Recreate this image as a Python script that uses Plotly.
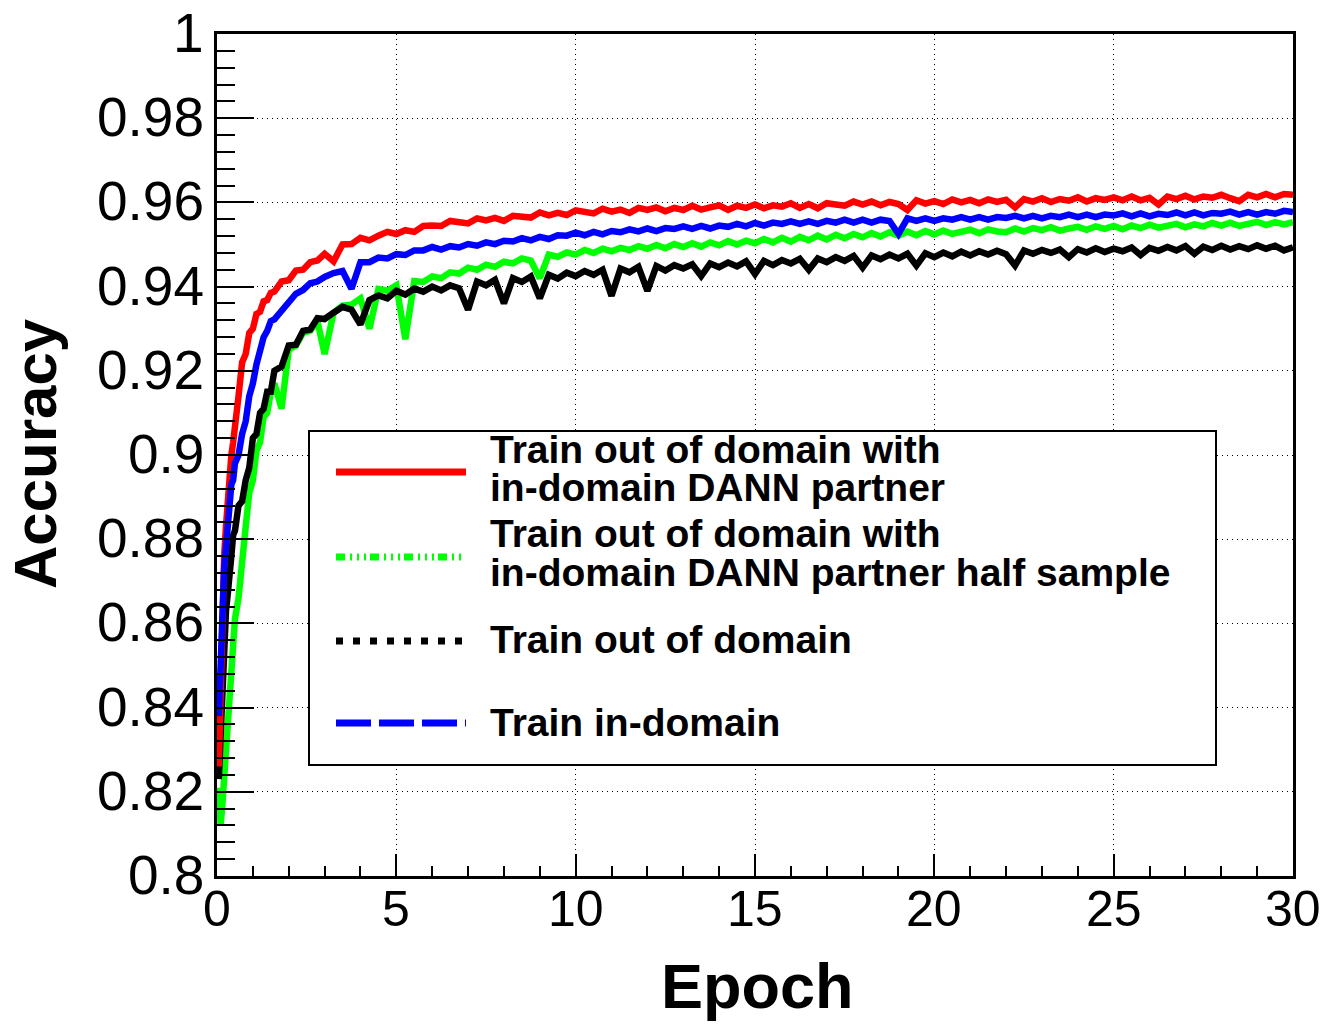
import plotly.graph_objects as go

# ---------------- data ----------------
epoch = [0.05, 0.1, 0.15, 0.2, 0.25, 0.3, 0.35, 0.4, 0.45, 0.5, 0.6, 0.7, 0.8, 0.9, 1.0,
         1.1, 1.2, 1.3, 1.4, 1.5, 1.6, 1.8, 2.0, 2.2, 2.4, 2.6, 2.8, 3.0,
         3.25, 3.5, 3.75, 4.0, 4.25, 4.5, 4.75, 5.0, 5.25, 5.5, 5.75, 6.0,
         6.25, 6.5, 6.75, 7.0, 7.25, 7.5, 7.75, 8.0, 8.25, 8.5, 8.75, 9.0,
         9.25, 9.5, 9.75, 10.0, 10.25, 10.5, 10.75, 11.0, 11.25, 11.5, 11.75, 12.0,
         12.25, 12.5, 12.75, 13.0, 13.25, 13.5, 13.75, 14.0, 14.25, 14.5, 14.75, 15.0,
         15.25, 15.5, 15.75, 16.0, 16.25, 16.5, 16.75, 17.0, 17.25, 17.5, 17.75, 18.0,
         18.25, 18.5, 18.75, 19.0, 19.25, 19.5, 19.75, 20.0, 20.25, 20.5, 20.75, 21.0,
         21.25, 21.5, 21.75, 22.0, 22.25, 22.5, 22.75, 23.0, 23.25, 23.5, 23.75, 24.0,
         24.25, 24.5, 24.75, 25.0, 25.25, 25.5, 25.75, 26.0, 26.25, 26.5, 26.75, 27.0,
         27.25, 27.5, 27.75, 28.0, 28.25, 28.5, 28.75, 29.0, 29.25, 29.5, 29.75, 30.0]

acc_dann = [0.826, 0.846, 0.861, 0.876, 0.883, 0.891, 0.895, 0.900, 0.903, 0.908, 0.914, 0.922, 0.924, 0.929,
            0.930, 0.9335, 0.934, 0.9365, 0.9368, 0.9385, 0.9388, 0.9412, 0.9415, 0.9438, 0.9440, 0.9458, 0.9462, 0.9478,
            0.9460, 0.9500, 0.9501, 0.9516, 0.9510, 0.9521, 0.9530, 0.9525, 0.9534, 0.9530, 0.9544, 0.9545,
            0.9544, 0.9556, 0.9554, 0.9550, 0.9562, 0.9557, 0.9563, 0.9556, 0.9568, 0.9567, 0.9564, 0.9576,
            0.9569, 0.9575, 0.9570, 0.9581, 0.9577, 0.9574, 0.9585, 0.9578, 0.9583, 0.9575, 0.9587, 0.9582,
            0.9588, 0.9579, 0.9587, 0.9582, 0.9592, 0.9583, 0.9588, 0.9593, 0.9582, 0.9592, 0.9587, 0.9595,
            0.9586, 0.9593, 0.9590, 0.9598, 0.9587, 0.9596, 0.9586, 0.9598, 0.9595, 0.9592, 0.9602, 0.9595,
            0.9602, 0.9593, 0.9601, 0.9596, 0.9582, 0.9605, 0.9597, 0.9603, 0.9596, 0.9607, 0.9600, 0.9606,
            0.9598, 0.9607, 0.9601, 0.9606, 0.9588, 0.9608, 0.9602, 0.9610, 0.9601, 0.9608, 0.9604, 0.9612,
            0.9602, 0.9610, 0.9606, 0.9612, 0.9605, 0.9614, 0.9605, 0.9611, 0.9595, 0.9614, 0.9608, 0.9616,
            0.9607, 0.9614, 0.9611, 0.9618, 0.9610, 0.9603, 0.9618, 0.9612, 0.9620, 0.9612, 0.9620, 0.9618]

acc_dann_half = [0.821, 0.812, 0.817, 0.824, 0.831, 0.839, 0.845, 0.851, 0.855, 0.861, 0.866, 0.877, 0.883, 0.891,
                 0.894, 0.901, 0.903, 0.909, 0.910, 0.915, 0.917, 0.911, 0.925, 0.926, 0.929, 0.9295, 0.9318, 0.9240,
                 0.9338, 0.9355, 0.9357, 0.9372, 0.9300, 0.9394, 0.9390, 0.9403, 0.9275, 0.9413, 0.9411, 0.9424,
                 0.9420, 0.9434, 0.9431, 0.9445, 0.9440, 0.9452, 0.9447, 0.9459, 0.9455, 0.9467, 0.9462, 0.9420,
                 0.9476, 0.9471, 0.9481, 0.9476, 0.9487, 0.9480, 0.9490, 0.9484, 0.9492, 0.9487, 0.9496, 0.9490,
                 0.9499, 0.9491, 0.9501, 0.9494, 0.9503, 0.9495, 0.9505, 0.9498, 0.9508, 0.9500, 0.9509, 0.9503,
                 0.9513, 0.9505, 0.9516, 0.9507, 0.9518, 0.9510, 0.9521, 0.9512, 0.9523, 0.9515, 0.9525, 0.9517,
                 0.9527, 0.9519, 0.9529, 0.9521, 0.9531, 0.9522, 0.9532, 0.9524, 0.9533, 0.9525, 0.9530, 0.9535,
                 0.9527, 0.9536, 0.9531, 0.9529, 0.9538, 0.9531, 0.9539, 0.9534, 0.9541, 0.9533, 0.9538, 0.9542,
                 0.9535, 0.9543, 0.9537, 0.9544, 0.9536, 0.9545, 0.9539, 0.9547, 0.9540, 0.9546, 0.9549, 0.9541,
                 0.9548, 0.9543, 0.9551, 0.9545, 0.9552, 0.9544, 0.9549, 0.9554, 0.9546, 0.9553, 0.9548, 0.9553]

acc_out = [0.823, 0.834, 0.847, 0.854, 0.863, 0.867, 0.874, 0.876, 0.881, 0.882, 0.888, 0.889, 0.894, 0.897,
           0.904, 0.905, 0.910, 0.911, 0.915, 0.915, 0.920, 0.921, 0.926, 0.9262, 0.9295, 0.9298, 0.9325, 0.9323,
           0.9338, 0.9352, 0.9345, 0.9310, 0.9368, 0.9379, 0.9372, 0.9390, 0.9381, 0.9395, 0.9388, 0.9400,
           0.9391, 0.9403, 0.9396, 0.9345, 0.9412, 0.9403, 0.9416, 0.9360, 0.9420, 0.9411, 0.9424, 0.9372,
           0.9428, 0.9419, 0.9433, 0.9425, 0.9437, 0.9428, 0.9440, 0.9378, 0.9443, 0.9434, 0.9447, 0.9390,
           0.9449, 0.9438, 0.9451, 0.9443, 0.9453, 0.9425, 0.9455, 0.9446, 0.9457, 0.9448, 0.9460, 0.9430,
           0.9461, 0.9451, 0.9463, 0.9455, 0.9466, 0.9440, 0.9467, 0.9458, 0.9470, 0.9461, 0.9473, 0.9445,
           0.9474, 0.9465, 0.9476, 0.9467, 0.9478, 0.9450, 0.9479, 0.9470, 0.9481, 0.9472, 0.9483, 0.9474,
           0.9484, 0.9476, 0.9485, 0.9477, 0.9450, 0.9486, 0.9478, 0.9487, 0.9480, 0.9488, 0.9470, 0.9489,
           0.9481, 0.9491, 0.9482, 0.9490, 0.9484, 0.9493, 0.9475, 0.9492, 0.9485, 0.9494, 0.9486, 0.9496,
           0.9478, 0.9495, 0.9487, 0.9497, 0.9488, 0.9496, 0.9489, 0.9498, 0.9490, 0.9497, 0.9486, 0.9493]

acc_in = [0.838, 0.851, 0.861, 0.873, 0.878, 0.886, 0.888, 0.893, 0.894, 0.898, 0.900, 0.905, 0.908, 0.914,
          0.917, 0.9215, 0.9245, 0.928, 0.9295, 0.9318, 0.9322, 0.9343, 0.9362, 0.9383, 0.9392, 0.9408, 0.9412, 0.9423,
          0.9432, 0.9437, 0.9395, 0.9458, 0.9458, 0.9469, 0.9467, 0.9477, 0.9475, 0.9486, 0.9486, 0.9494,
          0.9488, 0.9496, 0.9493, 0.9501, 0.9497, 0.9505, 0.9501, 0.9509, 0.9507, 0.9515, 0.9510, 0.9518,
          0.9513, 0.9522, 0.9521, 0.9528, 0.9522, 0.9530, 0.9524, 0.9532, 0.9529, 0.9536, 0.9531, 0.9538,
          0.9532, 0.9539, 0.9537, 0.9543, 0.9537, 0.9544, 0.9538, 0.9545, 0.9542, 0.9549, 0.9543, 0.9551,
          0.9545, 0.9552, 0.9549, 0.9555, 0.9549, 0.9555, 0.9549, 0.9556, 0.9552, 0.9559, 0.9552, 0.9559,
          0.9552, 0.9559, 0.9556, 0.9525, 0.9562, 0.9556, 0.9562, 0.9556, 0.9562, 0.9559, 0.9565, 0.9559,
          0.9565, 0.9559, 0.9565, 0.9563, 0.9568, 0.9562, 0.9568, 0.9562, 0.9568, 0.9565, 0.9571, 0.9565,
          0.9571, 0.9565, 0.9571, 0.9569, 0.9574, 0.9567, 0.9574, 0.9567, 0.9573, 0.9570, 0.9576, 0.9569,
          0.9576, 0.9569, 0.9575, 0.9573, 0.9578, 0.9571, 0.9577, 0.9571, 0.9577, 0.9573, 0.9580, 0.9577]

x_tick_vals = [0, 5, 10, 15, 20, 25, 30]
x_tick_text = ["0", "5", "10", "15", "20", "25", "30"]
y_tick_vals = [0.8, 0.82, 0.84, 0.86, 0.88, 0.9, 0.92, 0.94, 0.96, 0.98, 1.0]
y_tick_text = ["0.8", "0.82", "0.84", "0.86", "0.88", "0.9", "0.92", "0.94", "0.96", "0.98", "1"]

legend_lines = [
    ["Train out of domain with", "in-domain DANN partner"],
    ["Train out of domain with", "in-domain DANN partner half sample"],
    ["Train out of domain"],
    ["Train in-domain"],
]

# ---------------- styling ----------------
RED, GREEN, BLACK, BLUE = "#ff0000", "#00ff00", "#000000", "#0000ff"
FONT = "Liberation Sans, Arial, Helvetica, sans-serif"

W, H = 1331, 1025
L, R, T, B = 217, 38, 34, 149
PW, PH = W - L - R, H - T - B


def px_x(p):
    return (p - L) / PW


def px_y(p):
    return (H - B - p) / PH


fig = go.Figure()
for ys, col in [(acc_dann_half, GREEN), (acc_out, BLACK), (acc_dann, RED), (acc_in, BLUE)]:
    fig.add_trace(go.Scatter(x=epoch, y=ys, mode="lines",
                             line=dict(color=col, width=6.5), showlegend=False,
                             hoverinfo="skip"))

axis_common = dict(
    showline=True, linecolor="black", linewidth=3, mirror=True,
    showgrid=True, gridcolor="black", gridwidth=1, griddash="1px,4px",
    zeroline=False, ticks="inside", tickcolor="black", tickwidth=2,
    showticklabels=False,
)

fig.update_xaxes(range=[0, 30], tickmode="array", tickvals=x_tick_vals,
                 ticklen=22,
                 minor=dict(ticks="inside", ticklen=10, tickwidth=2, tickcolor="black",
                            tick0=0, dtick=1, showgrid=False),
                 **axis_common)
fig.update_yaxes(range=[0.8, 1.0], tickmode="array", tickvals=y_tick_vals,
                 ticklen=37,
                 minor=dict(ticks="inside", ticklen=18, tickwidth=2, tickcolor="black",
                            tick0=0.8, dtick=0.004, showgrid=False),
                 **axis_common)

shapes = []
annotations = []

# tick labels (placed by the axis scales)
for v, t in zip(x_tick_vals, x_tick_text):
    annotations.append(dict(text=t, xref="x", yref="paper", x=v, y=0,
                            xanchor="center", yanchor="middle", yshift=-33,
                            showarrow=False,
                            font=dict(family=FONT, size=50, color="black")))
for v, t in zip(y_tick_vals, y_tick_text):
    annotations.append(dict(text=t, xref="paper", yref="y", x=0, y=v,
                            xanchor="right", yanchor="middle", xshift=-11, yshift=1,
                            showarrow=False,
                            font=dict(family=FONT, size=55, color="black")))

# legend box
shapes.append(dict(type="rect", xref="paper", yref="paper",
                   x0=px_x(309), x1=px_x(1216), y0=px_y(765), y1=px_y(431),
                   line=dict(color="black", width=2), fillcolor="white", layer="above"))

legend_styles = [
    (RED, "solid", 472),
    (GREEN, "9px,5px,2px,5px,2px,5px,2px,4px", 557),
    (BLACK, "7px,10px", 641),
    (BLUE, "35px,8px", 723),
]
text_rows = [[451, 489], [535, 574], [641], [724]]
for (col, dash, ly), lines, rows in zip(legend_styles, legend_lines, text_rows):
    shapes.append(dict(type="line", xref="paper", yref="paper",
                       x0=px_x(336), x1=px_x(466), y0=px_y(ly), y1=px_y(ly),
                       line=dict(color=col, width=7, dash=dash), layer="above"))
    for txt, ty in zip(lines, rows):
        annotations.append(dict(text=txt, xref="paper", yref="paper",
                                x=px_x(488), y=px_y(ty - 2), xanchor="left", yanchor="middle",
                                showarrow=False,
                                font=dict(family=FONT, size=39, color="black", weight="bold")))

# axis titles
annotations.append(dict(text="Epoch", xref="paper", yref="paper",
                        x=px_x(757), y=px_y(986), xanchor="center", yanchor="middle",
                        showarrow=False,
                        font=dict(family=FONT, size=63, color="black", weight="bold")))
annotations.append(dict(text="Accuracy", xref="paper", yref="paper",
                        x=px_x(35), y=px_y(454), xanchor="center", yanchor="middle",
                        textangle=-90, showarrow=False,
                        font=dict(family=FONT, size=60, color="black", weight="bold")))

fig.update_layout(width=W, height=H, autosize=False,
                  margin=dict(l=L, r=R, t=T, b=B, pad=0),
                  paper_bgcolor="white", plot_bgcolor="white",
                  showlegend=False, shapes=shapes, annotations=annotations,
                  font=dict(family=FONT, color="black"))

fig.write_html("out.html")
